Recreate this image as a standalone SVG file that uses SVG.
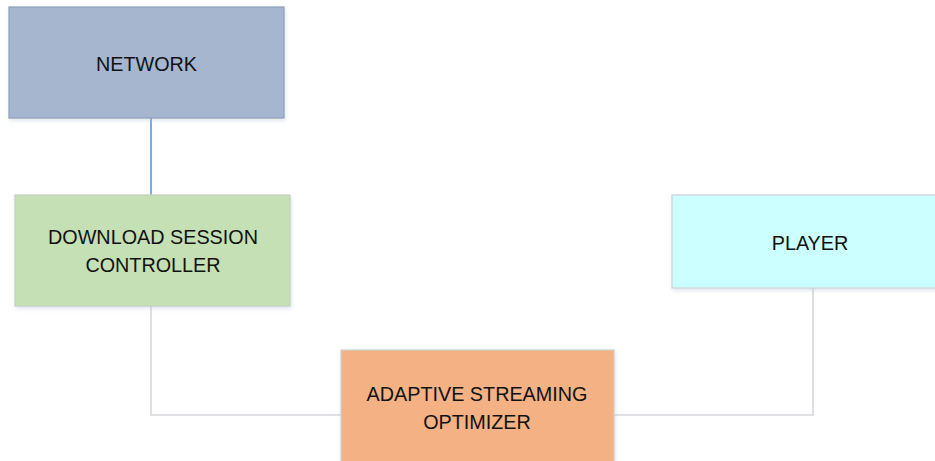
<svg xmlns="http://www.w3.org/2000/svg" width="935" height="461" viewBox="0 0 935 461">
  <defs>
    <filter id="soft" x="-10%" y="-10%" width="120%" height="130%">
      <feDropShadow dx="1" dy="2" stdDeviation="2" flood-color="#9fb4d0" flood-opacity="0.35"/>
    </filter>
  </defs>
  <style>
    .box { stroke-width: 1.2; filter: url(#soft); }
    .lbl { font-family: "Liberation Sans", Arial, sans-serif; font-size: 19.8px; fill: #111; text-anchor: middle; }
    .wire { fill: none; stroke-width: 1.6; }
  </style>
  <rect width="935" height="461" fill="#ffffff"/>

  <!-- links between blocks -->
  <g id="connectors">
    <line class="wire" x1="151" y1="118" x2="151" y2="196" stroke="#5b9bd5"/>
    <polyline class="wire" points="151,306 151,415 341,415" stroke="#d6d8dc"/>
    <polyline class="wire" points="614,415 813,415 813,288" stroke="#d6d8dc"/>
  </g>

  <g id="network">
    <rect class="box" x="9" y="7" width="275" height="111" fill="#a6b6cf" stroke="#8e9fb8"/>
    <text class="lbl" x="146.5" y="71">NETWORK</text>
  </g>

  <g id="download-session-controller">
    <rect class="box" x="15" y="195" width="275" height="111" fill="#c5e0b4" stroke="#c6cfc0"/>
    <text class="lbl" x="153" y="244">DOWNLOAD SESSION</text>
    <text class="lbl" x="153" y="272">CONTROLLER</text>
  </g>

  <g id="adaptive-streaming-optimizer">
    <rect class="box" x="341" y="350" width="273" height="120" fill="#f4b183" stroke="#cfcfcf"/>
    <text class="lbl" x="477" y="401">ADAPTIVE STREAMING</text>
    <text class="lbl" x="477" y="429">OPTIMIZER</text>
  </g>

  <g id="player">
    <rect class="box" x="672" y="195" width="276" height="93" fill="#ccffff" stroke="#cfd2d4"/>
    <text class="lbl" x="810" y="250">PLAYER</text>
  </g>
</svg>
